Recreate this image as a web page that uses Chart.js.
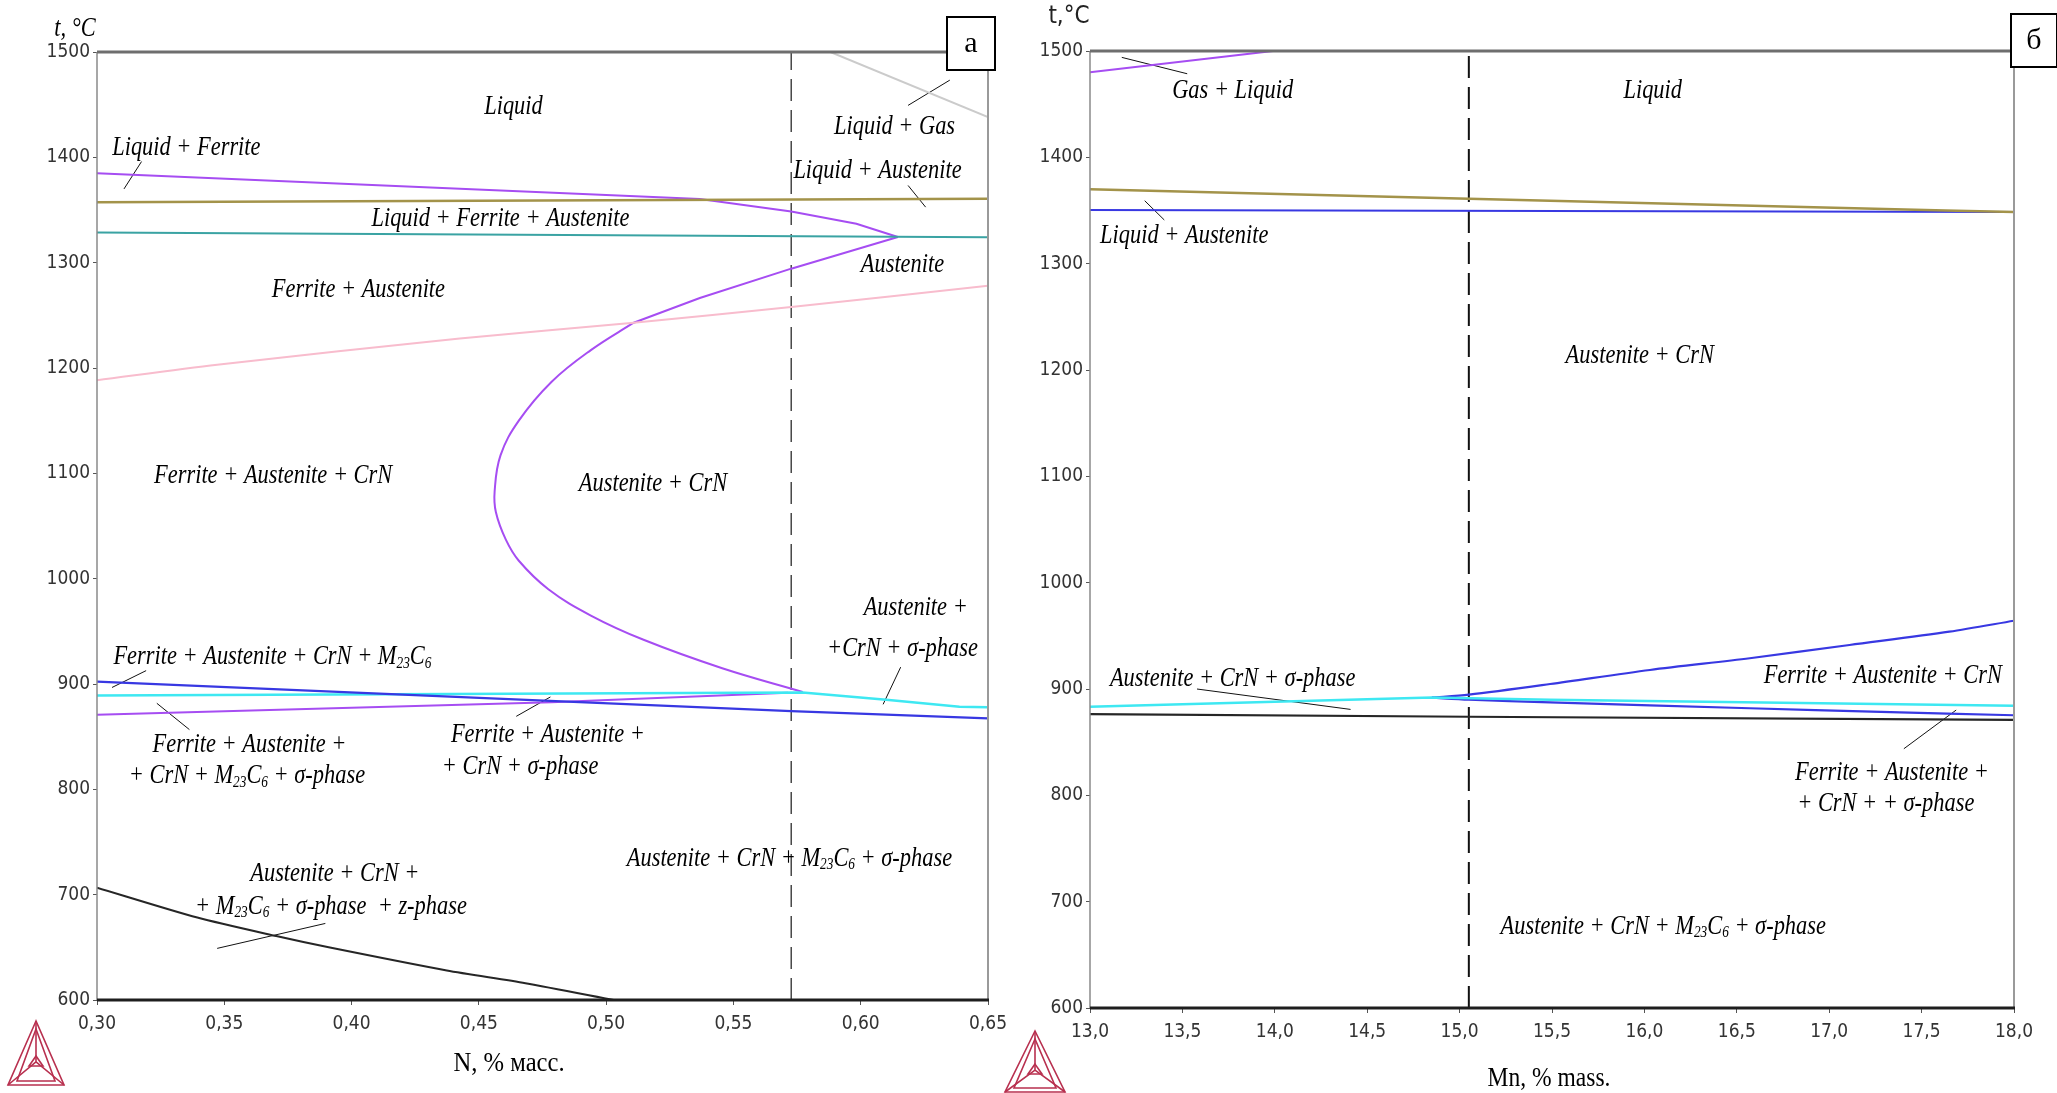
<!DOCTYPE html>
<html>
<head>
<meta charset="utf-8">
<script src="https://cdn.jsdelivr.net/npm/chart.js@4.4.1/dist/chart.umd.min.js"></script>
<style>
  body { margin: 0; background: #fff; width: 2057px; height: 1093px; overflow: hidden; }
  canvas { position: absolute; top: 0; }
  #diagN { left: 0; }
  #diagMn { left: 1000px; }
</style>
</head>
<body>
<canvas id="diagN" width="1030" height="1093"></canvas>
<canvas id="diagMn" width="1057" height="1093"></canvas>
<script>
// ─── DATOS: panel a (N, % масс.) ─────────────────────────────────
const nTicks = [0.30, 0.35, 0.40, 0.45, 0.50, 0.55, 0.60, 0.65]
const tempTicks = [600, 700, 800, 900, 1000, 1100, 1200, 1300, 1400, 1500]

const nLiquidusTop = [[0.30, 1385], [0.5368, 1360.5], [0.5727, 1348.5], [0.5983, 1337], [0.6146, 1324.4]]
const nAustNose = [[0.6146, 1324.4], [0.5727, 1294.3], [0.5368, 1266.4], [0.5108, 1243]]
const nAustBow = [[0.5108, 1243], [0.494, 1217], [0.4786, 1187], [0.4657, 1150], [0.4585, 1117], [0.4562, 1083],
  [0.4567, 1063], [0.4606, 1037], [0.4657, 1017], [0.4773, 990], [0.494, 965], [0.5147, 942], [0.5456, 915], [0.5772, 892.5]]
const nSigmaLow = [[0.30, 870.7], [0.4786, 882.7], [0.5714, 891.7]]
const nBlue = [[0.30, 902.3], [0.5727, 874.3], [0.65, 867.3]]
const nCyan = [[0.30, 889], [0.5772, 892], [0.61, 885], [0.6388, 878.5], [0.65, 878]]
const nOlive = [[0.30, 1357.3], [0.65, 1360.7]]
const nTeal = [[0.30, 1328.7], [0.65, 1324.2]]
const nPink = [[0.30, 1188.3], [0.3472, 1203], [0.4425, 1228], [0.5108, 1243], [0.5727, 1258], [0.65, 1278]]
const nGas = [[0.5881, 1500], [0.65, 1438.3]]
const nBlack = [[0.30, 706.7], [0.3394, 678.3], [0.3704, 660.7], [0.391, 650], [0.4374, 628], [0.4683, 616], [0.503, 600]]
const nSteel = 0.5727

const nLeaders = [
  [[0.3175, 1396], [0.3106, 1370]],
  [[0.635, 1473.3], [0.6186, 1449.3]],
  [[0.6186, 1373.3], [0.6255, 1352.7]],
  [[0.3193, 912.7], [0.3059, 896.7]],
  [[0.3235, 881.7], [0.3363, 856.7]],
  [[0.4781, 887.7], [0.4647, 869.3]],
  [[0.6157, 916], [0.6088, 880.7]],
  [[0.3897, 672.7], [0.3472, 649]]
]

const nRegions = [
  ['Liquid', 0.4636, 1450],
  ['Liquid + Ferrite', 0.3351, 1411],
  ['Liquid + Gas', 0.6133, 1431],
  ['Liquid + Austenite', 0.6066, 1389],
  ['Liquid + Ferrite + Austenite', 0.4585, 1343],
  ['Austenite', 0.6164, 1300],
  ['Ferrite + Austenite', 0.4027, 1276],
  ['Ferrite + Austenite + CrN', 0.3692, 1099],
  ['Austenite + CrN', 0.5184, 1092],
  ['Austenite +', 0.6216, 974],
  ['+CrN + σ-phase', 0.6164, 935],
  ['Ferrite + Austenite + CrN + M[23]C[6]', 0.3689, 927],
  ['Ferrite + Austenite +', 0.3599, 844],
  ['+ CrN + M[23]C[6] + σ-phase', 0.3589, 814],
  ['Ferrite + Austenite +', 0.4771, 853],
  ['+ CrN + σ-phase', 0.4662, 823],
  ['Austenite + CrN + M[23]C[6] + σ-phase', 0.572, 736],
  ['Austenite + CrN +', 0.3934, 721],
  ['+ M[23]C[6] + σ-phase  + z-phase', 0.3919, 690]
]

// ─── DATOS: panel б (Mn, % mass.) ─────────────────────────────────
const mnTicks = [13.0, 13.5, 14.0, 14.5, 15.0, 15.5, 16.0, 16.5, 17.0, 17.5, 18.0]

const mnGas = [[13.0, 1480], [13.99, 1500]]
const mnOlive = [[13.0, 1370], [15.05, 1361], [17.63, 1350], [18.0, 1348.5]]
const mnSolidus = [[13.0, 1350.5], [18.0, 1348.5]]
const mnCyan = [[13.0, 883.3], [14.85, 891.9], [15.49, 890], [18.0, 884.3]]
const mnBlueUp = [[14.85, 891.9], [15.05, 894.7], [15.49, 904.7], [16.03, 917.9], [16.57, 928.9], [17.11, 941.4], [17.65, 953.9], [18.0, 964.2]]
const mnBlueLow = [[14.85, 891.9], [15.05, 890], [15.49, 887.5], [16.57, 881.9], [17.28, 878.5], [18.0, 875.3]]
const mnBlack = [[13.0, 876.3], [15.05, 873.9], [18.0, 871]]
const mnSteel = 15.05

const mnLeaders = [
  [[13.172, 1494], [13.526, 1478.6]],
  [[13.296, 1359.2], [13.402, 1341.1]],
  [[13.579, 900], [14.41, 880.8]],
  [[17.687, 880.2], [17.404, 843.8]]
]

const mnRegions = [
  ['Gas + Liquid', 13.772, 1464],
  ['Liquid', 16.045, 1464],
  ['Liquid + Austenite', 13.51, 1328],
  ['Austenite + CrN', 15.975, 1215],
  ['Austenite + CrN + σ-phase', 13.772, 911],
  ['Ferrite + Austenite + CrN', 17.29, 914],
  ['Ferrite + Austenite +', 17.34, 823],
  ['+ CrN + + σ-phase', 17.306, 794],
  ['Austenite + CrN + M[23]C[6] + σ-phase', 16.102, 678]
]

// ─── ESTILOS ──────────────────────────────────────────────────────
const SERIF = "'Liberation Serif', 'DejaVu Serif', serif"
const NARROW = "'Liberation Sans Narrow', 'DejaVu Sans Condensed', 'Liberation Sans', sans-serif"
const C = {
  purple: '#a64df2', olive: '#a3934a', teal: '#3aa3a3', pink: '#f8bccd', gray: '#cbcbcb',
  blue: '#3838e2', cyan: '#3ee8f2', black: '#262626'
}

function linea(pts, color, width, extra) {
  return Object.assign({
    data: pts.map(([x, y]) => ({ x, y })),
    borderColor: color,
    borderWidth: width,
    showLine: true,
    pointRadius: 0,
    fill: false,
    tension: 0
  }, extra || {})
}

function guias(list) {
  return list.map(p => linea(p, '#111', 1))
}

// texto con subíndices: "M[23]C[6]"
function textoRico(ctx, text, x, y, size, sx, italic) {
  const st = italic === false ? '' : 'italic '
  const big = `${st}${size}px ${SERIF}`
  const small = `${st}${Math.round(size * 0.6)}px ${SERIF}`
  let w = 0
  const segs = text.split(/(\[[^\]]+\])/).filter(Boolean).map(p => {
    const sub = p.startsWith('[')
    const t = sub ? p.slice(1, -1) : p
    ctx.font = sub ? small : big
    const mw = ctx.measureText(t).width
    w += mw
    return { t, sub, mw }
  })
  ctx.save()
  ctx.translate(x, y)
  ctx.scale(sx, 1)
  ctx.textAlign = 'left'
  ctx.textBaseline = 'alphabetic'
  ctx.fillStyle = '#000'
  let cx = -w / 2
  segs.forEach(s => {
    ctx.font = s.sub ? small : big
    ctx.fillText(s.t, cx, s.sub ? size * 0.45 : size * 0.33)
    cx += s.mw
  })
  ctx.restore()
}

function logo(ctx, ax, ay, by, hw) {
  const cy = ay + (by - ay) * 0.64
  ctx.save()
  ctx.strokeStyle = '#b8304f'
  ctx.lineWidth = 1.6
  const tri = (x1, y1, x2, y2, x3, y3) => {
    ctx.beginPath(); ctx.moveTo(x1, y1); ctx.lineTo(x2, y2); ctx.lineTo(x3, y3); ctx.closePath(); ctx.stroke()
  }
  tri(ax, ay, ax - hw, by, ax + hw, by)
  tri(ax, ay + 8, ax - hw + 9, by - 4, ax + hw - 9, by - 4)
  tri(ax, cy - 6, ax - 7, cy + 4, ax + 7, cy + 4)
  ctx.beginPath()
  ctx.moveTo(ax, ay); ctx.lineTo(ax, cy)
  ctx.moveTo(ax - hw, by); ctx.lineTo(ax, cy)
  ctx.moveTo(ax + hw, by); ctx.lineTo(ax, cy)
  ctx.stroke()
  ctx.restore()
}

function marco(ctx, a) {
  ctx.save()
  ctx.lineCap = 'butt'
  ctx.strokeStyle = '#8a8a8a'; ctx.lineWidth = 1.5
  ctx.beginPath(); ctx.moveTo(a.left, a.top); ctx.lineTo(a.left, a.bottom); ctx.stroke()
  ctx.strokeStyle = '#9a9a9a'; ctx.lineWidth = 2
  ctx.beginPath(); ctx.moveTo(a.right, a.top); ctx.lineTo(a.right, a.bottom); ctx.stroke()
  ctx.strokeStyle = '#6e6e6e'; ctx.lineWidth = 3
  ctx.beginPath(); ctx.moveTo(a.left, a.top); ctx.lineTo(a.right, a.top); ctx.stroke()
  ctx.strokeStyle = '#1e1e1e'; ctx.lineWidth = 3
  ctx.beginPath(); ctx.moveTo(a.left, a.bottom); ctx.lineTo(a.right + 1, a.bottom); ctx.stroke()
  ctx.restore()
}

function caja(ctx, x, y, w, h, letra) {
  ctx.save()
  ctx.fillStyle = '#fff'
  ctx.fillRect(x, y, w, h)
  ctx.strokeStyle = '#000'; ctx.lineWidth = 2
  ctx.strokeRect(x, y, w, h)
  ctx.fillStyle = '#000'
  ctx.font = `30px ${SERIF}`
  ctx.textAlign = 'center'; ctx.textBaseline = 'middle'
  ctx.fillText(letra, x + w / 2, y + h / 2 + 1)
  ctx.restore()
}

function decor(regions, extra) {
  return {
    id: 'decor',
    afterDatasetsDraw(chart) {
      const { ctx, chartArea, scales } = chart
      marco(ctx, chartArea)
      regions.forEach(([t, x, y]) => {
        textoRico(ctx, t, scales.x.getPixelForValue(x), scales.y.getPixelForValue(y), 27, 0.83)
      })
      extra(ctx, chartArea)
    }
  }
}

function escalas(xTicks, xMin, xMax, dec, yWidth, xHeight) {
  const tickFont = { family: NARROW, size: 19 }
  return {
    x: {
      type: 'linear', min: xMin, max: xMax,
      afterBuildTicks: s => { s.ticks = xTicks.map(v => ({ value: v })) },
      afterFit: s => { s.height = xHeight },
      border: { display: false },
      grid: { drawOnChartArea: false, drawTicks: true, tickLength: 5, color: '#555' },
      ticks: {
        autoSkip: false, maxRotation: 0, padding: 8, color: '#333', font: tickFont,
        callback: v => v.toFixed(dec).replace('.', ',')
      }
    },
    y: {
      type: 'linear', min: 600, max: 1500,
      afterBuildTicks: s => { s.ticks = tempTicks.map(v => ({ value: v })) },
      afterFit: s => { s.width = yWidth },
      border: { display: false },
      grid: { drawOnChartArea: false, drawTicks: true, tickLength: 4, color: '#555' },
      ticks: { padding: 3, color: '#333', font: tickFont, callback: v => String(v) }
    }
  }
}

// ─── PANEL a ──────────────────────────────────────────────────────
function panelN() {
  new Chart(document.getElementById('diagN'), {
    type: 'scatter',
    data: {
      datasets: [
        linea(nPink, C.pink, 2, { tension: 0.3 }),
        linea(nGas, C.gray, 2),
        linea(nOlive, C.olive, 2.5),
        linea(nTeal, C.teal, 2),
        linea(nBlack, C.black, 2, { tension: 0.25 }),
        linea(nBlue, C.blue, 2.2),
        linea(nCyan, C.cyan, 2.5),
        linea(nSigmaLow, C.purple, 2),
        linea(nLiquidusTop, C.purple, 2),
        linea(nAustNose, C.purple, 2),
        linea(nAustBow, C.purple, 2, { tension: 0.4 }),
        linea([[nSteel, 600], [nSteel, 1500]], '#3a3a3a', 1.4, { borderDash: [22, 9] }),
        ...guias(nLeaders)
      ]
    },
    options: {
      responsive: false,
      animation: false,
      devicePixelRatio: 1,
      layout: { padding: { top: 52, right: 42, left: 0, bottom: 0 } },
      scales: escalas(nTicks, 0.30, 0.65, 2, 97, 93),
      plugins: { legend: { display: false }, tooltip: { enabled: false } }
    },
    plugins: [decor(nRegions, (ctx, a) => {
      caja(ctx, 947, 17, 48, 53, 'а')
      textoRico(ctx, 't, °C', 75, 27, 28, 0.8)
      textoRico(ctx, 'N, % масс.', 509, 1062, 28, 0.88, false)
      logo(ctx, 36, 1021, 1085, 28)
    })]
  })
}

// ─── PANEL б ──────────────────────────────────────────────────────
function panelMn() {
  new Chart(document.getElementById('diagMn'), {
    type: 'scatter',
    data: {
      datasets: [
        linea(mnGas, C.purple, 2),
        linea(mnOlive, C.olive, 2.5),
        linea(mnSolidus, C.blue, 2),
        linea(mnBlack, C.black, 2.2),
        linea(mnCyan, C.cyan, 2.5),
        linea(mnBlueLow, C.blue, 2.2, { tension: 0.3 }),
        linea(mnBlueUp, C.blue, 2.2, { tension: 0.3 }),
        linea([[mnSteel, 600], [mnSteel, 1500]], '#111', 2, { borderDash: [22, 9] }),
        ...guias(mnLeaders)
      ]
    },
    options: {
      responsive: false,
      animation: false,
      devicePixelRatio: 1,
      layout: { padding: { top: 51, right: 43, left: 0, bottom: 0 } },
      scales: escalas(mnTicks, 13, 18, 1, 90, 85),
      plugins: { legend: { display: false }, tooltip: { enabled: false } }
    },
    plugins: [decor(mnRegions, (ctx, a) => {
      caja(ctx, 1011, 14, 46, 53, 'б')
      ctx.save()
      ctx.font = `24px ${NARROW}`
      ctx.fillStyle = '#222'
      ctx.textAlign = 'center'; ctx.textBaseline = 'middle'
      ctx.fillText('t,°C', 69, 17)
      ctx.restore()
      textoRico(ctx, 'Mn, % mass.', 549, 1077, 28, 0.84, false)
      logo(ctx, 35, 1031, 1092, 30)
    })]
  })
}

document.addEventListener('DOMContentLoaded', () => {
  panelN()
  panelMn()
})
</script>
</body>
</html>
